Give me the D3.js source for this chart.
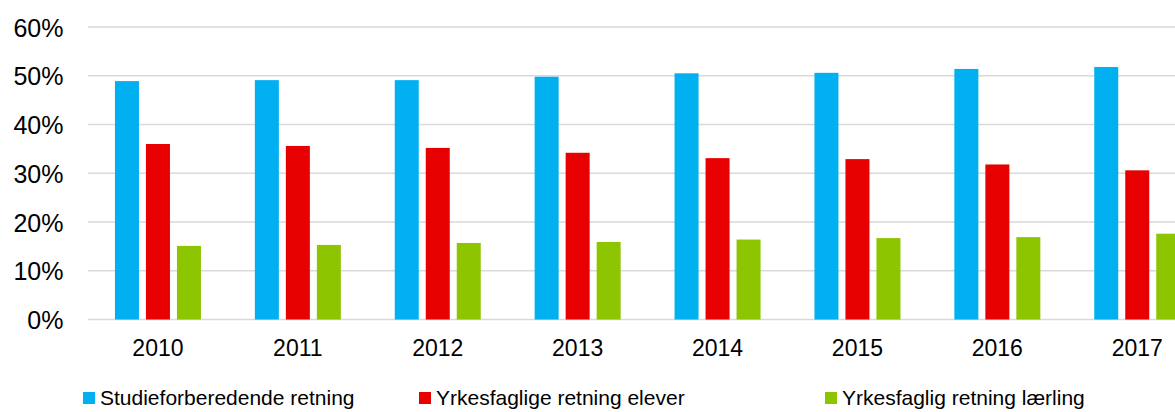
<!DOCTYPE html>
<html lang="no">
<head>
<meta charset="UTF-8">
<title>Elever etter retning</title>
<script src="https://cdn.jsdelivr.net/npm/d3@7"></script>
<style>
  body { margin: 0; background: #fff; }
  svg { display: block; font-family: "Liberation Sans", Arial, sans-serif; }
</style>
</head>
<body>
<script>
// data
var years = ["2010", "2011", "2012", "2013", "2014", "2015", "2016", "2017"];
var seriesNames = ["Studieforberedende retning", "Yrkesfaglige retning elever", "Yrkesfaglig retning lærling"];
var studie = [0.489, 0.491, 0.491, 0.498, 0.505, 0.506, 0.514, 0.518];
var yrkesElev = [0.360, 0.356, 0.352, 0.342, 0.331, 0.329, 0.318, 0.306];
var yrkesLaerling = [0.151, 0.153, 0.157, 0.159, 0.164, 0.167, 0.169, 0.176];
var yTicks = [0, 0.1, 0.2, 0.3, 0.4, 0.5, 0.6];
var colors = ["#00b0f0", "#e60000", "#8dc500"];

var values = [studie, yrkesElev, yrkesLaerling];
var width = 1175, height = 412;

var svg = d3.select("body").append("svg").attr("width", width).attr("height", height);

var y = d3.scaleLinear().domain([0, 0.6]).range([319.5, 27]);
// the plot runs a bit past the right edge, like the original which is cut off
var x = d3.scaleBand().domain(years).range([88, 88 + 8 * 139.9]);
var x1 = d3.scaleBand().domain(seriesNames).range([-43, 43]).paddingInner(7 / 31);

// gridlines
svg.append("g").selectAll("line").data(yTicks).enter().append("line")
    .attr("x1", 88).attr("x2", width)
    .attr("y1", function(d){ return y(d) }).attr("y2", function(d){ return y(d) })
    .attr("stroke", "#d9d9d9").attr("stroke-width", 1.5);

// y labels
svg.append("g").selectAll("text").data(yTicks).enter().append("text")
    .attr("x", 63.5).attr("y", function(d){ return y(d) + 9.5 })
    .attr("text-anchor", "end").attr("font-size", 25).attr("fill", "#000")
    .text(d3.format(".0%"));

// bars
var groups = svg.append("g").selectAll("g").data(years).enter().append("g")
    .attr("transform", function(d){ return "translate(" + (x(d) + x.bandwidth() / 2) + ",0)" });

groups.selectAll("rect").data(function(d, i){
        return seriesNames.map(function(s, j){ return {s: s, j: j, v: values[j][i]} })
    }).enter().append("rect")
    .attr("x", function(d){ return x1(d.s) })
    .attr("width", x1.bandwidth())
    .attr("y", function(d){ return y(d.v) })
    .attr("height", function(d){ return y(0) - y(d.v) })
    .attr("fill", function(d){ return colors[d.j] });

// x labels
svg.append("g").selectAll("text").data(years).enter().append("text")
    .attr("x", function(d){ return x(d) + x.bandwidth() / 2 })
    .attr("y", 356)
    .attr("text-anchor", "middle").attr("font-size", 23).attr("fill", "#000")
    .text(function(d){ return d });

// legend
var legendX = [83, 419, 825];
var legend = svg.append("g").selectAll("g").data(seriesNames).enter().append("g")
    .attr("transform", function(d, i){ return "translate(" + legendX[i] + ",392)" });
legend.append("rect").attr("width", 12).attr("height", 12)
    .attr("fill", function(d, i){ return colors[i] });
legend.append("text").attr("x", 17).attr("y", 13)
    .attr("font-size", 21).attr("fill", "#000")
    .text(function(d){ return d });
</script>
</body>
</html>
